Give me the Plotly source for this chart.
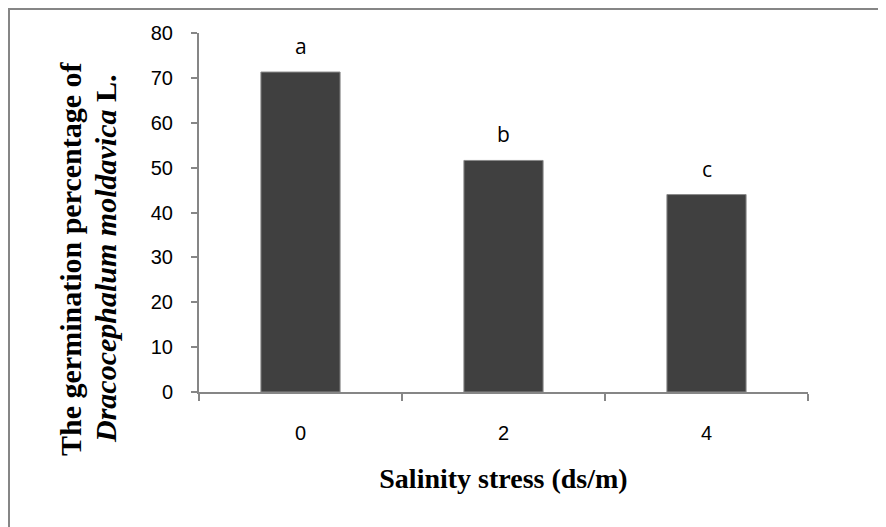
import plotly.graph_objects as go

categories = ["0", "2", "4"]
values = [71.3, 51.6, 44.0]
letters = ["a", "b", "c"]
y_ticks = [0, 10, 20, 30, 40, 50, 60, 70, 80]
y_title_lines = ["<b>The germination percentage of</b>",
                 "<b><i>Dracocephalum moldavica</i> L.</b>"]

# the page body has an 8px margin, so the figure is sized to the remaining window
W, H = 878, 519
L, R, T, B = 191, 78, 25, 135
pw, ph = W - L - R, H - T - B

fig = go.Figure()
fig.add_trace(go.Bar(
    x=categories, y=values,
    marker=dict(color="#404040", line=dict(color="#8a8a8a", width=1)),
    width=0.39, hoverinfo="skip",
))

for i, (val, lab) in enumerate(zip(values, letters)):
    fig.add_annotation(
        x=i, y=val, text=lab, showarrow=False,
        yanchor="bottom", yshift=10,
        font=dict(family="Open Sans, Liberation Sans", size=21, color="#000000"),
    )

# y-axis title drawn as two rotated lines (pixel offsets converted to paper units)
title_x_px = [62, 97]
title_y_px = 251
for line, xp in zip(y_title_lines, title_x_px):
    fig.add_annotation(
        xref="paper", yref="paper",
        x=(xp - L) / pw, y=(H - B - title_y_px) / ph,
        xanchor="center", yanchor="middle",
        text=line, textangle=-90, showarrow=False,
        font=dict(family="Liberation Serif, Times New Roman", size=30, color="#000"),
    )

fig.update_layout(
    width=W, height=H,
    margin=dict(l=L, r=R, t=T, b=B),
    paper_bgcolor="white", plot_bgcolor="white",
    showlegend=False,
)

fig.update_xaxes(
    type="category", tickson="boundaries",
    categoryorder="array", categoryarray=categories,
    range=[-0.5, len(categories) - 0.5],
    showline=True, linecolor="#868686", linewidth=2,
    ticks="outside", ticklen=7, tickcolor="#868686", tickwidth=2,
    tickfont=dict(family="Liberation Sans, Arial", size=20, color="#000"),
    ticklabelstandoff=22,
    showgrid=False, zeroline=False,
    title=dict(text="<b>Salinity stress (ds/m)</b>", standoff=25,
               font=dict(family="Liberation Serif, Times New Roman", size=28, color="#000")),
)
fig.update_yaxes(
    range=[0, 80], tickvals=y_ticks,
    showline=True, linecolor="#868686", linewidth=2,
    ticks="outside", ticklen=6, tickcolor="#868686", tickwidth=2,
    tickfont=dict(family="Liberation Sans, Arial", size=20, color="#000"),
    ticklabelstandoff=14,
    showgrid=False, zeroline=False,
)

# outer frame of the chart area (left and top edges visible)
fig.add_shape(type="rect", xref="paper", yref="paper",
              x0=(1 - L) / pw, x1=(W + 20 - L) / pw,
              y0=(-20 - B) / ph, y1=(H - 1 - B) / ph,
              line=dict(color="#868686", width=2), layer="below")

fig.write_html("out.html")
